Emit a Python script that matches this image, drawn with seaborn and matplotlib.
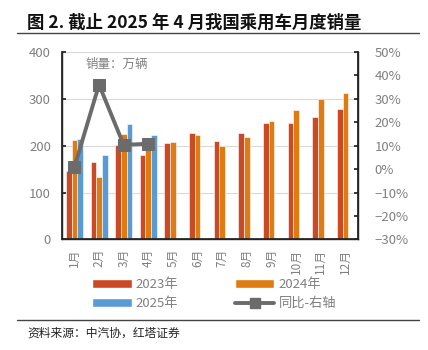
import numpy as np
import pandas as pd
import seaborn as sns
import matplotlib.pyplot as plt
from matplotlib.patches import Patch
from matplotlib.lines import Line2D

months = ['1月', '2月', '3月', '4月', '5月', '6月', '7月', '8月', '9月', '10月', '11月', '12月']
sales_2023 = [146, 164, 201, 181, 205, 226, 210, 227, 249, 249, 260, 279]
sales_2024 = [212, 133, 224, 205, 207, 222, 199, 218, 252, 275, 299, 312]
sales_2025 = [214, 181, 246, 222, np.nan, np.nan, np.nan, np.nan, np.nan, np.nan, np.nan, np.nan]
yoy_2025 = [0.8, 36.0, 10.3, 10.8]

years = ['2023年', '2024年', '2025年']
colors = ['#CB4A25', '#E07B12', '#5B9BD5']
line_color = '#6B6B6B'

sns.set_theme(style='white')
plt.rcParams['font.family'] = ['Noto Sans CJK SC', 'DejaVu Sans']
plt.rcParams['axes.unicode_minus'] = True

df = pd.DataFrame({
    'month': months * 3,
    'year': [years[0]] * 12 + [years[1]] * 12 + [years[2]] * 12,
    'sales': sales_2023 + sales_2024 + sales_2025,
})

fig = plt.figure(figsize=(4.28, 3.5), dpi=100)
ax = fig.add_axes([0.145, 0.316, 0.691, 0.536])

sns.barplot(data=df, x='month', y='sales', hue='year', hue_order=years,
            palette=colors, width=0.69, ax=ax, legend=False,
            edgecolor='white', linewidth=0.4, saturation=1)

ax.set_ylim(0, 400)
ax.set_yticks([0, 100, 200, 300, 400])
ax.set_xlim(-0.5, 11.5)
ax.set_xlabel('')
ax.set_ylabel('')
ax.yaxis.grid(True, color='#D9D9D9', linewidth=0.8)
ax.set_axisbelow(True)
for s in ['left', 'bottom', 'right']:
    ax.spines[s].set_color('#222222')
    ax.spines[s].set_linewidth(1.0)
ax.spines['top'].set_visible(False)
ax.tick_params(axis='y', labelsize=9.5, labelcolor='#808080', direction='in',
               length=3, color='#222222', left=True, pad=8)
ax.tick_params(axis='x', labelsize=8.5, labelcolor='#808080', length=0, pad=7)
plt.setp(ax.get_xticklabels(), rotation=90)

ax.text(0.08, 0.965, '销量：万辆', transform=ax.transAxes, fontsize=9,
        color='#808080', va='top')

ax2 = ax.twinx()
sns.lineplot(x=np.arange(len(yoy_2025)), y=yoy_2025, ax=ax2, color=line_color,
             linewidth=2.8, marker='s', markersize=8, markeredgecolor=line_color)
ax2.set_ylim(-30, 50)
ax2.set_yticks(range(-30, 51, 10))
ax2.set_yticklabels([f'{v}%'.replace('-', '\u2212') for v in range(-30, 51, 10)])
ax2.spines['top'].set_visible(False)
ax2.spines['right'].set_color('#222222')
ax2.tick_params(axis='y', labelsize=9.5, labelcolor='#808080', direction='in',
                length=3, color='#222222', pad=12)
ax2.set_xlim(-0.5, 11.5)

handles = [Patch(facecolor=colors[0], label=years[0]),
           Patch(facecolor=colors[1], label=years[1]),
           Patch(facecolor=colors[2], label=years[2]),
           Line2D([0], [0], color=line_color, linewidth=2.8, marker='s',
                  markersize=7, label='同比-右轴')]
order = [handles[0], handles[2], handles[1], handles[3]]
fig.legend(handles=order, ncol=2, loc='center', bbox_to_anchor=(0.5, 0.16),
           frameon=False, fontsize=9.5, handlelength=3.0, handleheight=0.6,
           columnspacing=4.3, labelspacing=0.45, handletextpad=0.3,
           labelcolor='#808080')

fig.text(0.063, 0.935, '图 2. 截止 2025 年 4 月我国乘用车月度销量', fontsize=12.5,
         fontweight='bold', color='#111111', va='center')
fig.add_artist(Line2D([0.04, 0.98], [0.906, 0.906], color='#444444', linewidth=1.0))
fig.add_artist(Line2D([0.04, 0.98], [0.086, 0.086], color='#444444', linewidth=1.0))
fig.text(0.063, 0.048, '资料来源：中汽协，红塔证券', fontsize=8.5, color='#222222', va='center')

fig.savefig('out.png', dpi=100)
